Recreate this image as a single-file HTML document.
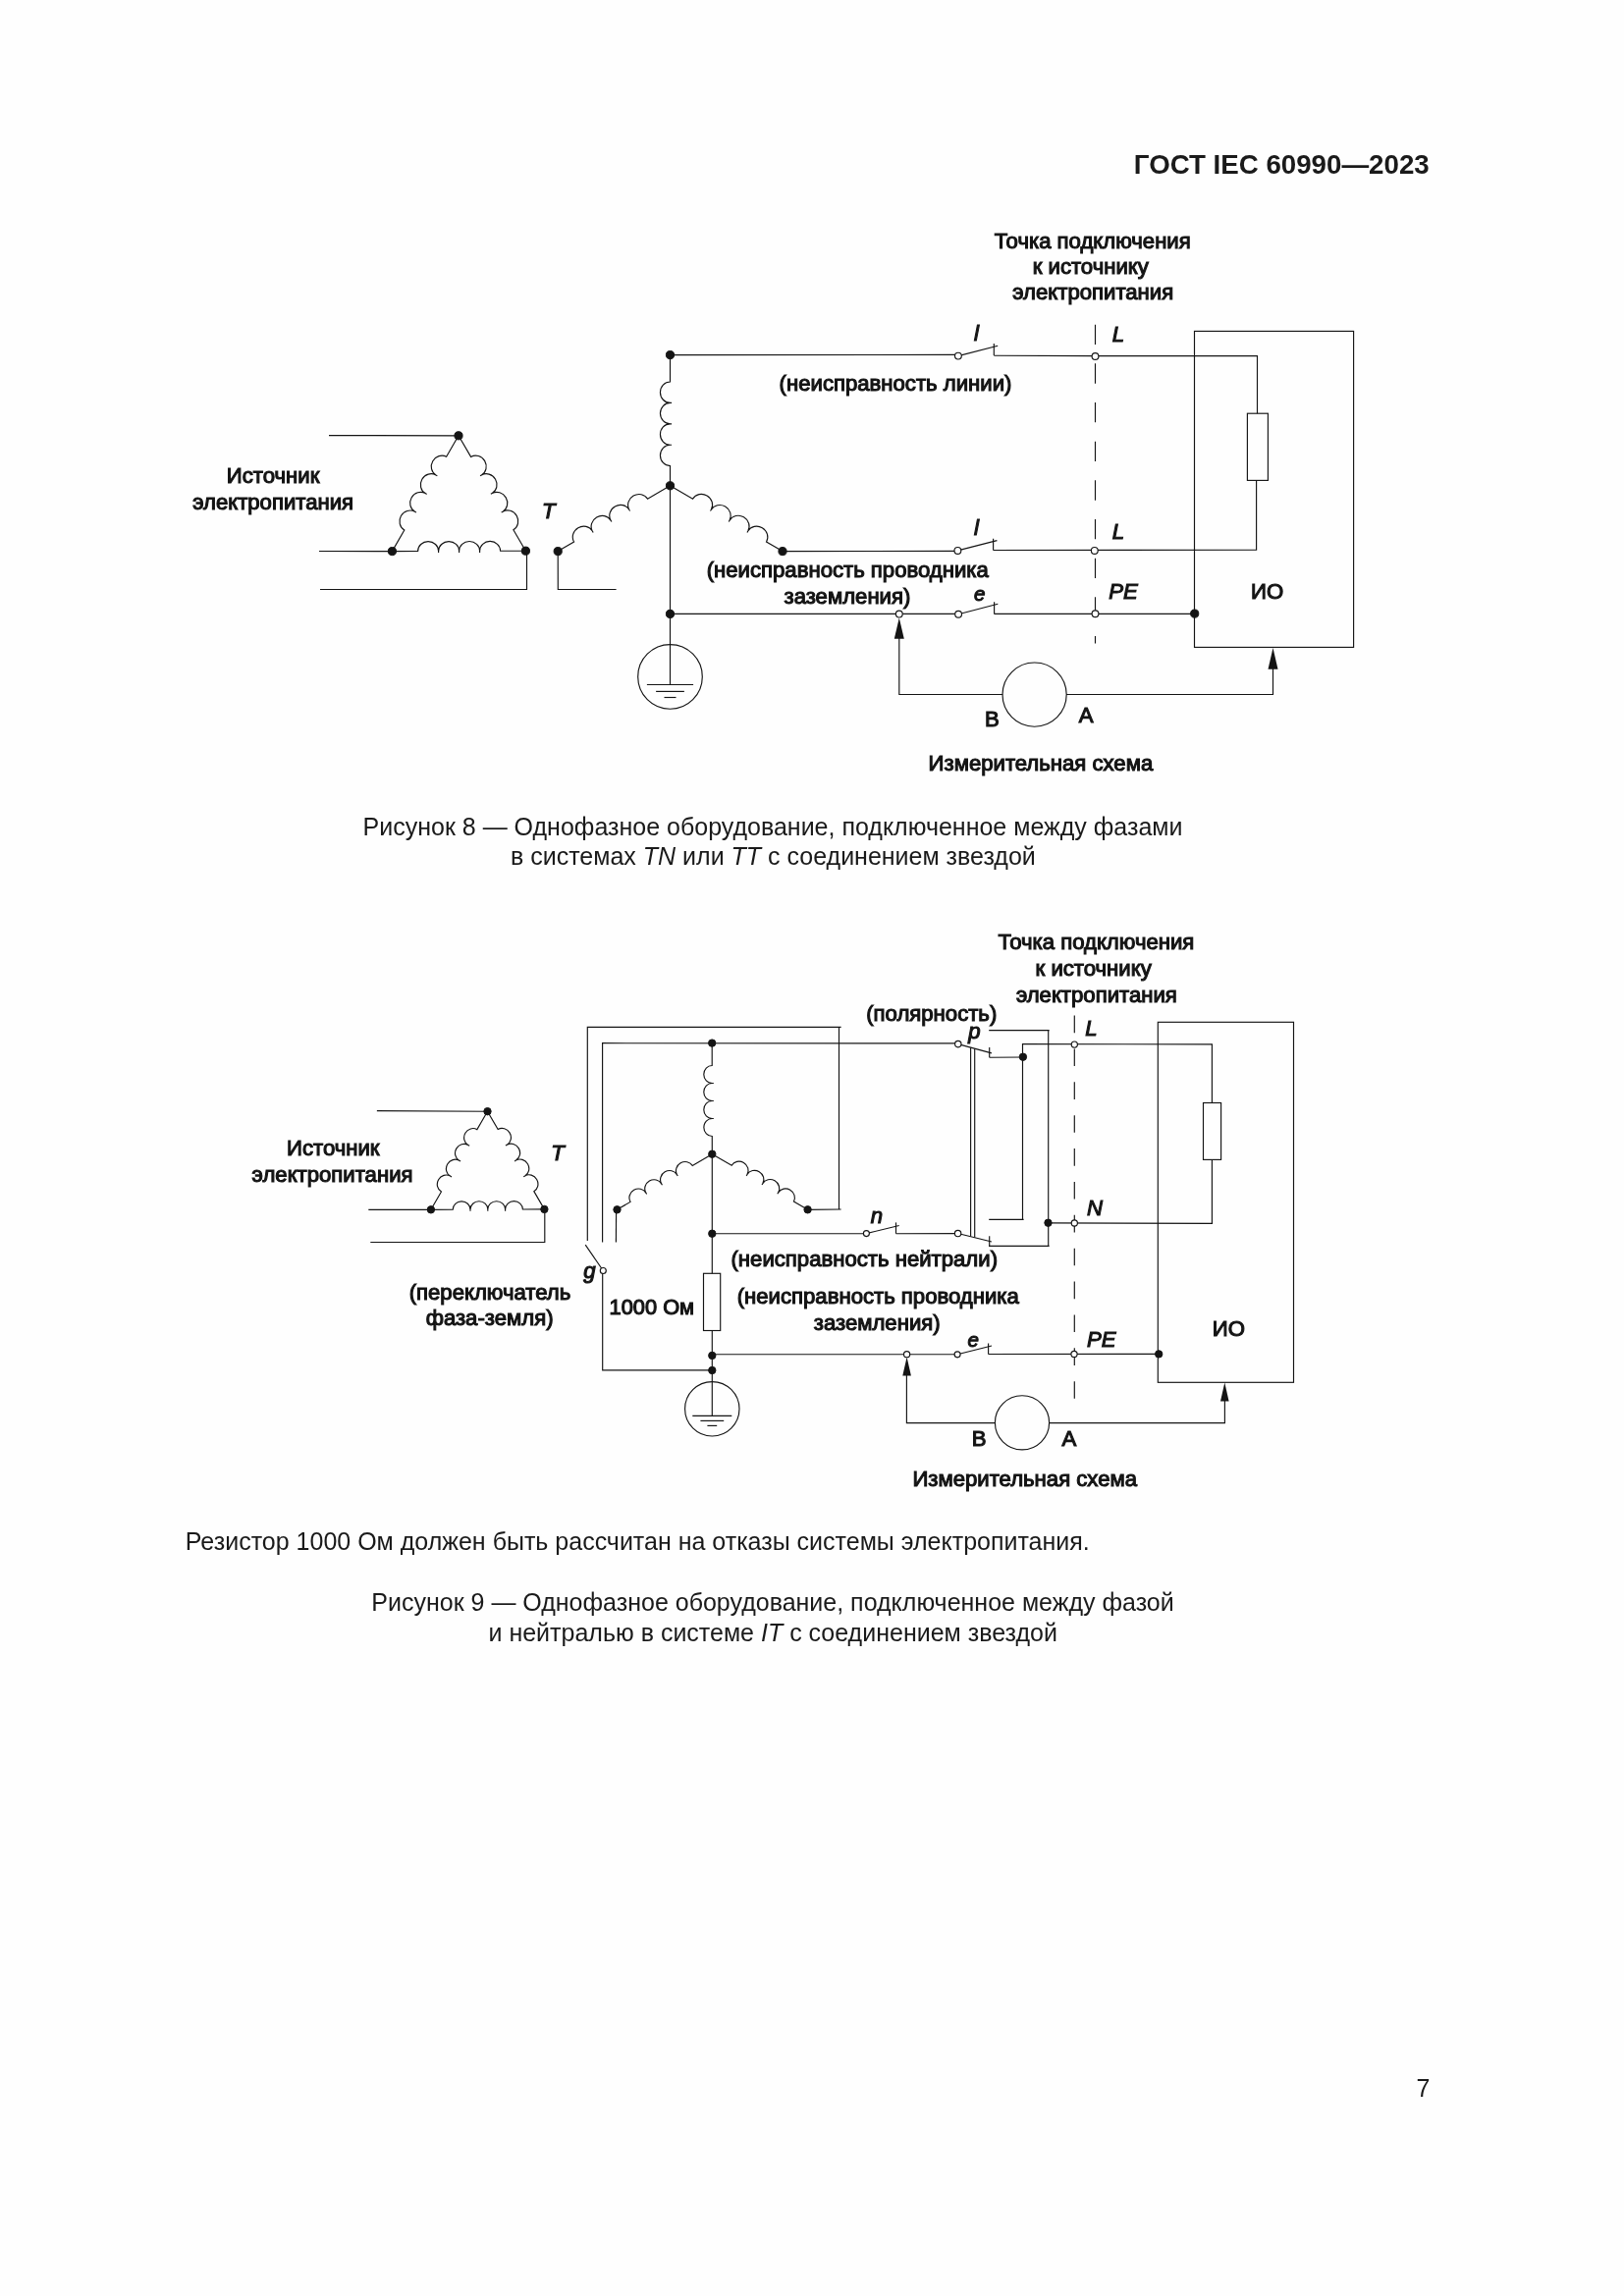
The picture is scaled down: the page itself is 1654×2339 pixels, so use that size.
<!DOCTYPE html>
<html lang="ru"><head><meta charset="utf-8"><title>ГОСТ IEC 60990—2023</title>
<style>
html,body{margin:0;padding:0;background:#fefefe;}
body{width:1654px;height:2339px;overflow:hidden;}
svg{display:block;will-change:transform;font-family:"Liberation Sans",sans-serif;}
svg path,svg rect,svg circle{stroke:#141414;}
svg path{fill:none;stroke-linecap:butt;stroke-linejoin:miter;}
svg text{white-space:pre;}
</style></head><body>
<svg width="1654" height="2339" viewBox="0 0 1654 2339">
<path d="M335 443.6 L467 443.8" stroke-width="1.15" />
<path d="M325 561.5 L399.4 561.6" stroke-width="1.15" />
<path d="M326 600.5 L536.5 600.5 L536.5 561.2" stroke-width="1.15" />
<path d="M399.4 561.6 L411.84 539.92 A10.75 10.1 -60.15 0 1 422.54 521.27 A10.75 10.1 -60.15 0 1 433.25 502.62 A10.75 10.1 -60.15 0 1 443.95 483.97 A10.75 10.1 -60.15 0 1 454.65 465.33 L467 443.8 M422.54 521.27 l1.39 0.8 M433.25 502.62 l1.39 0.8 M443.95 483.97 l1.39 0.8" stroke-width="1.15"/>
<path d="M467 443.8 L479.59 465.4 A10.75 10.1 59.77 0 1 490.41 483.98 A10.75 10.1 59.77 0 1 501.23 502.56 A10.75 10.1 59.77 0 1 512.06 521.13 A10.75 10.1 59.77 0 1 522.88 539.71 L535.4 561.2 M490.41 483.98 l-1.38 0.81 M501.23 502.56 l-1.38 0.81 M512.06 521.13 l-1.38 0.81" stroke-width="1.15"/>
<path d="M399.4 561.6 L425.6 561.52 A10.5 9.87 -0.17 0 1 446.6 561.46 A10.5 9.87 -0.17 0 1 467.6 561.4 A10.5 9.87 -0.17 0 1 488.6 561.34 A10.5 9.87 -0.17 0 1 509.6 561.28 L535.4 561.2 M446.6 561.46 l0 1.6 M467.6 561.4 l0 1.6 M488.6 561.34 l0 1.6" stroke-width="1.15"/>
<circle cx="467" cy="443.8" r="4.1" fill="#141414" stroke="none"/>
<circle cx="399.4" cy="561.6" r="4.1" fill="#141414" stroke="none"/>
<circle cx="535.4" cy="561.2" r="4.1" fill="#141414" stroke="none"/>
<path d="M682.5 361.6 L682.5 389 A10.7 10.06 90 0 0 682.5 410.4 A10.7 10.06 90 0 0 682.5 431.8 A10.7 10.06 90 0 0 682.5 453.2 A10.7 10.06 90 0 0 682.5 474.6 L682.5 494.8 M682.5 410.4 l1.6 -0 M682.5 431.8 l1.6 -0 M682.5 453.2 l1.6 -0" stroke-width="1.15"/>
<path d="M682.5 494.8 L705.56 508.25 A10.85 10.2 30.26 0 1 724.31 519.19 A10.85 10.2 30.26 0 1 743.05 530.12 A10.85 10.2 30.26 0 1 761.79 541.06 A10.85 10.2 30.26 0 1 780.54 551.99 L797 561.6 M724.31 519.19 l-0.81 1.38 M743.05 530.12 l-0.81 1.38 M761.79 541.06 l-0.81 1.38" stroke-width="1.15"/>
<path d="M568.2 561.6 L584.6 552.01 A10.85 10.2 -30.3 0 1 603.34 541.06 A10.85 10.2 -30.3 0 1 622.07 530.11 A10.85 10.2 -30.3 0 1 640.81 519.17 A10.85 10.2 -30.3 0 1 659.54 508.22 L682.5 494.8 M603.34 541.06 l0.81 1.38 M622.07 530.11 l0.81 1.38 M640.81 519.17 l0.81 1.38" stroke-width="1.15"/>
<path d="M568.2 561.6 L568.3 600.5 L627.6 600.5" stroke-width="1.15" />
<path d="M682.5 494.8 L682.5 625.4" stroke-width="1.15" />
<path d="M682.5 625.4 L682.5 697.5" stroke-width="1.15" />
<circle cx="682.5" cy="689.4" r="32.8" fill="none" stroke-width="1.15"/>
<path d="M658.9 697.5 L706.1 697.5" stroke-width="1.15" />
<path d="M668.1 704.4 L696.9 704.4" stroke-width="1.15" />
<path d="M676.5 710.5 L688.5 710.5" stroke-width="1.15" />
<path d="M682.5 361.6 L976 361.4" stroke-width="1.15" />
<path d="M975.9 362.6 L1016.2 352.2" stroke-width="1.15" />
<path d="M1012.3 350 L1012.3 362" stroke-width="1.15" />
<circle cx="975.9" cy="362.6" r="3.4" fill="#fff" stroke-width="1.15"/>
<path d="M1012.3 362.2 L1115.5 362.6 L1280.5 362.6 L1280.5 421.2" stroke-width="1.15" />
<path d="M797 561.6 L975.4 561.4" stroke-width="1.15" />
<path d="M975.4 560.9 L1015.4 550.6" stroke-width="1.15" />
<path d="M1011.6 548.8 L1011.6 560.6" stroke-width="1.15" />
<circle cx="975.4" cy="560.9" r="3.4" fill="#fff" stroke-width="1.15"/>
<path d="M1011.6 560.5 L1279.6 560.3 L1279.6 489.4" stroke-width="1.15" />
<rect x="1270.4" y="421.2" width="21.0" height="68.2" fill="none" stroke-width="1.15"/>
<path d="M682.5 625.4 L976 625.4" stroke-width="1.15" />
<path d="M976.1 625.7 L1016.3 615.3" stroke-width="1.15" />
<path d="M1012.6 613.3 L1012.6 625.4" stroke-width="1.15" />
<circle cx="976.1" cy="625.7" r="3.4" fill="#fff" stroke-width="1.15"/>
<path d="M1012.6 625.4 L1216.7 625.3" stroke-width="1.15" />
<rect x="1216.5" y="337.4" width="162.1" height="322.0" fill="none" stroke-width="1.15"/>
<path d="M1115.5 330.7 V655.5" stroke-width="1.15" stroke-dasharray="20.3 19.36"/>
<path d="M915.8 648 L915.8 707.5 L1021.2 707.5" stroke-width="1.15" />
<path d="M1086 707.5 L1296.5 707.5 L1296.5 680" stroke-width="1.15" />
<circle cx="1053.6" cy="707.6" r="32.6" fill="none" stroke-width="1.15"/>
<path d="M915.8 629.6 L910.8 650.7 L920.8 650.7 Z" style="fill:#141414;stroke:none"/>
<path d="M1296.5 660 L1291.5 681.8 L1301.5 681.8 Z" style="fill:#141414;stroke:none"/>
<circle cx="682.5" cy="361.6" r="4.1" fill="#141414" stroke="none"/>
<circle cx="682.5" cy="494.8" r="4.1" fill="#141414" stroke="none"/>
<circle cx="568.2" cy="561.6" r="4.1" fill="#141414" stroke="none"/>
<circle cx="797" cy="561.6" r="4.1" fill="#141414" stroke="none"/>
<circle cx="682.5" cy="625.4" r="4.1" fill="#141414" stroke="none"/>
<circle cx="1216.7" cy="625.1" r="4.1" fill="#141414" stroke="none"/>
<circle cx="1115.5" cy="363" r="3.4" fill="#fff" stroke-width="1.15"/>
<circle cx="1114.8" cy="560.9" r="3.4" fill="#fff" stroke-width="1.15"/>
<circle cx="1115.5" cy="625.2" r="3.4" fill="#fff" stroke-width="1.15"/>
<circle cx="915.8" cy="625.6" r="3.4" fill="#fff" stroke-width="1.15"/>
<text x="1012.8" y="252.5" text-anchor="start" style="font-size:22.15px;" fill="#141414" stroke="#141414" stroke-width="1.1" font-weight="normal">Точка подключения</text>
<text x="1051.7" y="278.8" text-anchor="start" style="font-size:22.15px;" fill="#141414" stroke="#141414" stroke-width="1.1" font-weight="normal">к источнику</text>
<text x="1031.3" y="305.4" text-anchor="start" style="font-size:22.15px;" fill="#141414" stroke="#141414" stroke-width="1.1" font-weight="normal">электропитания</text>
<text x="793.6" y="398" text-anchor="start" style="font-size:22.15px;" fill="#141414" stroke="#141414" stroke-width="1.1" font-weight="normal">(неисправность линии)</text>
<text x="719.7" y="588" text-anchor="start" style="font-size:22.15px;" fill="#141414" stroke="#141414" stroke-width="1.1" font-weight="normal">(неисправность проводника</text>
<text x="798.5" y="615.3" text-anchor="start" style="font-size:22.15px;" fill="#141414" stroke="#141414" stroke-width="1.1" font-weight="normal">заземления)</text>
<text x="230.8" y="492.3" text-anchor="start" style="font-size:22.15px;" fill="#141414" stroke="#141414" stroke-width="1.1" font-weight="normal">Источник</text>
<text x="196.2" y="518.6" text-anchor="start" style="font-size:22.15px;" fill="#141414" stroke="#141414" stroke-width="1.1" font-weight="normal">электропитания</text>
<text x="945.6" y="785.2" text-anchor="start" style="font-size:22.15px;" fill="#141414" stroke="#141414" stroke-width="1.1" font-weight="normal">Измерительная схема</text>
<text x="992" y="347.4" text-anchor="start" style="font-size:22.15px;font-style:italic;" fill="#141414" stroke="#141414" stroke-width="1.1" font-weight="normal">l</text>
<text x="992" y="544.7" text-anchor="start" style="font-size:22.15px;font-style:italic;" fill="#141414" stroke="#141414" stroke-width="1.1" font-weight="normal">l</text>
<text x="992" y="611.8" text-anchor="start" style="font-size:20.5px;font-style:italic;" fill="#141414" stroke="#141414" stroke-width="1.1" font-weight="normal">e</text>
<text x="1132.7" y="347.8" text-anchor="start" style="font-size:22.15px;font-style:italic;" fill="#141414" stroke="#141414" stroke-width="1.1" font-weight="normal">L</text>
<text x="1132.7" y="548.5" text-anchor="start" style="font-size:22.15px;font-style:italic;" fill="#141414" stroke="#141414" stroke-width="1.1" font-weight="normal">L</text>
<text x="1129.2" y="609.6" text-anchor="start" style="font-size:22.15px;font-style:italic;" fill="#141414" stroke="#141414" stroke-width="1.1" font-weight="normal">PE</text>
<text x="1274" y="609.6" text-anchor="start" style="font-size:22.15px;" fill="#141414" stroke="#141414" stroke-width="1.1" font-weight="normal">ИО</text>
<text x="552" y="528" text-anchor="start" style="font-size:22.15px;font-style:italic;" fill="#141414" stroke="#141414" stroke-width="1.1" font-weight="normal">T</text>
<text x="1098.8" y="735.6" text-anchor="start" style="font-size:22.15px;" fill="#141414" stroke="#141414" stroke-width="1.1" font-weight="normal">A</text>
<text x="1003" y="739.9" text-anchor="start" style="font-size:22.15px;" fill="#141414" stroke="#141414" stroke-width="1.1" font-weight="normal">B</text>
<path d="M383.9 1131.6 L496.5 1132.2" stroke-width="1.15" />
<path d="M375.3 1232.3 L438.9 1232.3" stroke-width="1.15" />
<path d="M377.3 1265.5 L554.8 1265.5 L554.8 1231.9" stroke-width="1.15" />
<path d="M438.9 1232.3 L449.47 1213.92 A9.12 8.58 -60.08 0 1 458.58 1198.11 A9.12 8.58 -60.08 0 1 467.68 1182.29 A9.12 8.58 -60.08 0 1 476.78 1166.47 A9.12 8.58 -60.08 0 1 485.88 1150.65 L496.5 1132.2 M458.58 1198.11 l1.39 0.8 M467.68 1182.29 l1.39 0.8 M476.78 1166.47 l1.39 0.8" stroke-width="1.15"/>
<path d="M496.5 1132.2 L507.15 1150.53 A9.12 8.58 59.85 0 1 516.31 1166.31 A9.12 8.58 59.85 0 1 525.48 1182.1 A9.12 8.58 59.85 0 1 534.64 1197.88 A9.12 8.58 59.85 0 1 543.81 1213.66 L554.4 1231.9 M516.31 1166.31 l-1.38 0.8 M525.48 1182.1 l-1.38 0.8 M534.64 1197.88 l-1.38 0.8" stroke-width="1.15"/>
<path d="M438.9 1232.3 L461.2 1232.22 A8.9 8.37 -0.2 0 1 479 1232.16 A8.9 8.37 -0.2 0 1 496.8 1232.1 A8.9 8.37 -0.2 0 1 514.6 1232.04 A8.9 8.37 -0.2 0 1 532.4 1231.98 L554.4 1231.9 M479 1232.16 l0.01 1.6 M496.8 1232.1 l0.01 1.6 M514.6 1232.04 l0.01 1.6" stroke-width="1.15"/>
<circle cx="496.5" cy="1132.2" r="3.7" fill="#141414" stroke="none"/>
<circle cx="438.9" cy="1232.3" r="3.7" fill="#141414" stroke="none"/>
<circle cx="554.4" cy="1231.9" r="3.7" fill="#141414" stroke="none"/>
<path d="M725.2 1062.6 L725.22 1085.5 A9 8.46 89.95 0 0 725.24 1103.5 A9 8.46 89.95 0 0 725.25 1121.5 A9 8.46 89.95 0 0 725.27 1139.5 A9 8.46 89.95 0 0 725.28 1157.5 L725.3 1175.7 M725.24 1103.5 l1.6 -0 M725.25 1121.5 l1.6 -0 M725.27 1139.5 l1.6 -0" stroke-width="1.15"/>
<path d="M725.3 1175.7 L745.18 1187.26 A9.15 8.6 30.19 0 1 761 1196.47 A9.15 8.6 30.19 0 1 776.82 1205.67 A9.15 8.6 30.19 0 1 792.64 1214.87 A9.15 8.6 30.19 0 1 808.45 1224.07 L822.6 1232.3 M761 1196.47 l-0.8 1.38 M776.82 1205.67 l-0.8 1.38 M792.64 1214.87 l-0.8 1.38" stroke-width="1.15"/>
<path d="M628.5 1232.3 L642.05 1224.38 A9.15 8.6 -30.32 0 1 657.85 1215.14 A9.15 8.6 -30.32 0 1 673.65 1205.9 A9.15 8.6 -30.32 0 1 689.45 1196.66 A9.15 8.6 -30.32 0 1 705.24 1187.43 L725.3 1175.7 M657.85 1215.14 l0.81 1.38 M673.65 1205.9 l0.81 1.38 M689.45 1196.66 l0.81 1.38" stroke-width="1.15"/>
<path d="M627.6 1232.3 L627.4 1265.6" stroke-width="1.15" />
<path d="M598.3 1264 L598.3 1046.4 L856.6 1046.4" stroke-width="1.15" />
<path d="M854.5 1046.4 L854.5 1232" stroke-width="1.15" />
<path d="M856.6 1232 L822.6 1232.3" stroke-width="1.15" />
<path d="M613.6 1265.5 L613.6 1062.7 L975.6 1062.9" stroke-width="1.15" />
<path d="M614.3 1294.5 L596.2 1268.2" stroke-width="1.15" />
<path d="M613.7 1297 L613.7 1395.8 L725.3 1395.8" stroke-width="1.15" />
<circle cx="614.3" cy="1294.5" r="3" fill="#fff" stroke-width="1.15"/>
<path d="M725.3 1175.7 L725.3 1297.3" stroke-width="1.15" />
<rect x="716.5" y="1297.3" width="17.2" height="58.2" fill="none" stroke-width="1.15"/>
<path d="M725.3 1355.5 L725.3 1396" stroke-width="1.15" />
<path d="M725.3 1396 L725.3 1442.4" stroke-width="1.15" />
<circle cx="725.3" cy="1435.3" r="27.7" fill="none" stroke-width="1.15"/>
<path d="M705.3 1442.4 L745.3 1442.4" stroke-width="1.15" />
<path d="M713.4 1447.4 L737.2 1447.4" stroke-width="1.15" />
<path d="M720.4 1452.4 L730.2 1452.4" stroke-width="1.15" />
<path d="M725.3 1256.7 L882.5 1256.7" stroke-width="1.15" />
<path d="M882.4 1256.6 L915.7 1248.5" stroke-width="1.15" />
<path d="M912.5 1245.4 L912.5 1256.7" stroke-width="1.15" />
<circle cx="882.4" cy="1256.6" r="3" fill="#fff" stroke-width="1.15"/>
<path d="M912.5 1256.7 L975.6 1256.6" stroke-width="1.15" />
<path d="M975.8 1063.6 L1009.9 1072.9" stroke-width="1.15" />
<path d="M1007.7 1067.1 L1007.7 1077.3" stroke-width="1.15" />
<circle cx="975.8" cy="1063.6" r="3.2" fill="#fff" stroke-width="1.15"/>
<path d="M1007.7 1077.2 L1041.9 1077" stroke-width="1.15" />
<path d="M1041.5 1242.4 L1041.5 1063.7 L1234.4 1063.8 L1234.4 1123.5" stroke-width="1.15" />
<path d="M1007.2 1242.4 L1042.6 1242.4" stroke-width="1.15" />
<path d="M1007.2 1049.6 L1068.6 1049.6" stroke-width="1.15" />
<path d="M1067.7 1049.6 L1067.7 1269.4" stroke-width="1.15" />
<path d="M1007.2 1269.4 L1068.6 1269.4" stroke-width="1.15" />
<path d="M975.6 1256.5 L1009.9 1265" stroke-width="1.15" />
<path d="M1007.7 1259.3 L1007.7 1270" stroke-width="1.15" />
<circle cx="975.6" cy="1256.5" r="3.2" fill="#fff" stroke-width="1.15"/>
<path d="M988.6 1067.3 L988.6 1259.5" stroke-width="1.15" />
<path d="M992.7 1068.4 L992.7 1260.5" stroke-width="1.15" />
<path d="M1067.5 1245.9 L1234.4 1246.3 L1234.4 1181.4" stroke-width="1.15" />
<rect x="1225.5" y="1123.5" width="18.1" height="57.9" fill="none" stroke-width="1.15"/>
<path d="M725.3 1379.7 L975.1 1379.7" stroke-width="1.15" />
<path d="M975.1 1379.8 L1010 1371" stroke-width="1.15" />
<path d="M1006.6 1368.6 L1006.6 1379.5" stroke-width="1.15" />
<circle cx="975.1" cy="1379.8" r="3" fill="#fff" stroke-width="1.15"/>
<path d="M1006.6 1379.5 L1180.2 1379.4" stroke-width="1.15" />
<rect x="1179.3" y="1041.3" width="138.2" height="367.0" fill="none" stroke-width="1.15"/>
<path d="M1094.3 1034.6 V1424.7" stroke-width="1.15" stroke-dasharray="17.6 16.27"/>
<path d="M923.4 1399 L923.4 1449.6 L1013.5 1449.6" stroke-width="1.15" />
<path d="M1068.5 1449.6 L1247.4 1449.6 L1247.4 1426" stroke-width="1.15" />
<circle cx="1041.0" cy="1449.3" r="27.6" fill="none" stroke-width="1.15"/>
<path d="M923.6 1382.6 L919.3 1401.4 L927.9 1401.4 Z" style="fill:#141414;stroke:none"/>
<path d="M1247.3 1408.6 L1243 1427.4 L1251.6 1427.4 Z" style="fill:#141414;stroke:none"/>
<circle cx="725.2" cy="1062.6" r="3.7" fill="#141414" stroke="none"/>
<circle cx="725.3" cy="1175.7" r="3.7" fill="#141414" stroke="none"/>
<circle cx="628.5" cy="1232.3" r="3.7" fill="#141414" stroke="none"/>
<circle cx="822.6" cy="1232.3" r="3.7" fill="#141414" stroke="none"/>
<circle cx="725.3" cy="1256.7" r="3.7" fill="#141414" stroke="none"/>
<circle cx="725.3" cy="1380.9" r="3.7" fill="#141414" stroke="none"/>
<circle cx="725.3" cy="1396" r="3.7" fill="#141414" stroke="none"/>
<circle cx="1041.9" cy="1076.7" r="3.7" fill="#141414" stroke="none"/>
<circle cx="1067.5" cy="1245.7" r="3.7" fill="#141414" stroke="none"/>
<circle cx="1180.2" cy="1379.4" r="3.7" fill="#141414" stroke="none"/>
<circle cx="1094.3" cy="1064.1" r="3.1" fill="#fff" stroke-width="1.15"/>
<circle cx="1094.3" cy="1246" r="3.1" fill="#fff" stroke-width="1.15"/>
<circle cx="1094" cy="1379.4" r="3.1" fill="#fff" stroke-width="1.15"/>
<circle cx="923.6" cy="1379.7" r="3.1" fill="#fff" stroke-width="1.15"/>
<text x="1016.4" y="967.1" text-anchor="start" style="font-size:22.15px;" fill="#141414" stroke="#141414" stroke-width="1.1" font-weight="normal">Точка подключения</text>
<text x="1054.6" y="993.9" text-anchor="start" style="font-size:22.15px;" fill="#141414" stroke="#141414" stroke-width="1.1" font-weight="normal">к источнику</text>
<text x="1034.9" y="1020.7" text-anchor="start" style="font-size:22.15px;" fill="#141414" stroke="#141414" stroke-width="1.1" font-weight="normal">электропитания</text>
<text x="882.2" y="1040.4" text-anchor="start" style="font-size:22.15px;" fill="#141414" stroke="#141414" stroke-width="1.1" font-weight="normal">(полярность)</text>
<text x="292" y="1177.3" text-anchor="start" style="font-size:22.15px;" fill="#141414" stroke="#141414" stroke-width="1.1" font-weight="normal">Источник</text>
<text x="256.6" y="1204.4" text-anchor="start" style="font-size:22.15px;" fill="#141414" stroke="#141414" stroke-width="1.1" font-weight="normal">электропитания</text>
<text x="416.7" y="1323.9" text-anchor="start" style="font-size:22.15px;" fill="#141414" stroke="#141414" stroke-width="1.1" font-weight="normal">(переключатель</text>
<text x="433.7" y="1350.2" text-anchor="start" style="font-size:22.15px;" fill="#141414" stroke="#141414" stroke-width="1.1" font-weight="normal">фаза-земля)</text>
<text x="620.6" y="1338.5" text-anchor="start" style="font-size:21.8px;" fill="#141414" stroke="#141414" stroke-width="1.1" font-weight="normal">1000 Ом</text>
<text x="744.5" y="1290.4" text-anchor="start" style="font-size:22.15px;" fill="#141414" stroke="#141414" stroke-width="1.1" font-weight="normal">(неисправность нейтрали)</text>
<text x="750.7" y="1327.9" text-anchor="start" style="font-size:22.15px;" fill="#141414" stroke="#141414" stroke-width="1.1" font-weight="normal">(неисправность проводника</text>
<text x="828.8" y="1355" text-anchor="start" style="font-size:22.15px;" fill="#141414" stroke="#141414" stroke-width="1.1" font-weight="normal">заземления)</text>
<text x="929.4" y="1513.9" text-anchor="start" style="font-size:22.15px;" fill="#141414" stroke="#141414" stroke-width="1.1" font-weight="normal">Измерительная схема</text>
<text x="561.2" y="1182.3" text-anchor="start" style="font-size:22.15px;font-style:italic;" fill="#141414" stroke="#141414" stroke-width="1.1" font-weight="normal">T</text>
<text x="594.2" y="1301.5" text-anchor="start" style="font-size:22.15px;font-style:italic;" fill="#141414" stroke="#141414" stroke-width="1.1" font-weight="normal">g</text>
<text x="986.2" y="1057.6" text-anchor="start" style="font-size:22.15px;font-style:italic;" fill="#141414" stroke="#141414" stroke-width="1.1" font-weight="normal">p</text>
<text x="886.8" y="1246" text-anchor="start" style="font-size:22.15px;font-style:italic;" fill="#141414" stroke="#141414" stroke-width="1.1" font-weight="normal">n</text>
<text x="985.6" y="1372" text-anchor="start" style="font-size:20.5px;font-style:italic;" fill="#141414" stroke="#141414" stroke-width="1.1" font-weight="normal">e</text>
<text x="1105.3" y="1054.5" text-anchor="start" style="font-size:22.15px;font-style:italic;" fill="#141414" stroke="#141414" stroke-width="1.1" font-weight="normal">L</text>
<text x="1107" y="1238" text-anchor="start" style="font-size:22.15px;font-style:italic;" fill="#141414" stroke="#141414" stroke-width="1.1" font-weight="normal">N</text>
<text x="1107" y="1372" text-anchor="start" style="font-size:22.15px;font-style:italic;" fill="#141414" stroke="#141414" stroke-width="1.1" font-weight="normal">PE</text>
<text x="1234.8" y="1360.6" text-anchor="start" style="font-size:22.15px;" fill="#141414" stroke="#141414" stroke-width="1.1" font-weight="normal">ИО</text>
<text x="1081.5" y="1473" text-anchor="start" style="font-size:22.15px;" fill="#141414" stroke="#141414" stroke-width="1.1" font-weight="normal">A</text>
<text x="989.8" y="1473" text-anchor="start" style="font-size:22.15px;" fill="#141414" stroke="#141414" stroke-width="1.1" font-weight="normal">B</text>
<text x="1154.8" y="176.8" text-anchor="start" style="font-size:27.7px;" fill="#1a1a1a" stroke="none" font-weight="bold">ГОСТ IEC 60990—2023</text>
<text x="369.6" y="851" text-anchor="start" style="font-size:25.0px;" fill="#1a1a1a" stroke="none" font-weight="normal">Рисунок 8 — Однофазное оборудование, подключенное между фазами</text>
<text x="520" y="881.1" text-anchor="start" style="font-size:25.0px;" fill="#1a1a1a" stroke="none" font-weight="normal">в системах <tspan font-style="italic">TN</tspan> или <tspan font-style="italic">TT</tspan> с соединением звездой</text>
<text x="188.8" y="1578.7" text-anchor="start" style="font-size:25.0px;" fill="#1a1a1a" stroke="none" font-weight="normal">Резистор 1000 Ом должен быть рассчитан на отказы системы электропитания.</text>
<text x="378.3" y="1640.8" text-anchor="start" style="font-size:25.0px;" fill="#1a1a1a" stroke="none" font-weight="normal">Рисунок 9 — Однофазное оборудование, подключенное между фазой</text>
<text x="497.5" y="1671.8" text-anchor="start" style="font-size:25.0px;" fill="#1a1a1a" stroke="none" font-weight="normal">и нейтралью в системе <tspan font-style="italic">IT</tspan> с соединением звездой</text>
<text x="1442.4" y="2135.8" text-anchor="start" style="font-size:25px;" fill="#1a1a1a" stroke="none" font-weight="normal">7</text>
</svg>
</body></html>
